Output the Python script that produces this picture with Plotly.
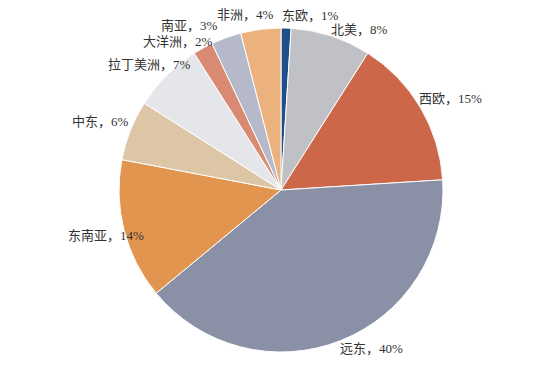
import math
import plotly.graph_objects as go

regions = ["东欧", "北美", "西欧", "远东", "东南亚", "中东", "拉丁美洲", "大洋洲", "南亚", "非洲"]
shares = [1, 8, 15, 40, 14, 6, 7, 2, 3, 4]
colors = ["#1F4E8C", "#BFC1C6", "#CD6749", "#8A90A6", "#E2954E",
          "#DCC6A6", "#E4E6EA", "#D88A73", "#B5B9C9", "#EBB27E"]
# per-label pixel nudges from the default outside position (style only)
nudges = [(24, -1), (25, 5), (20, -3), (26, -3), (-6, 2),
          (-19, -4), (-8, -2), (-19, 4), (-33, -1), (-14, -3)]

texts = [f"{r}，{s}%" for r, s in zip(regions, shares)]

W, H = 550, 365
OFF = 8  # page body margin
cx, cy, R = 281, 190, 162
gap = 12


def px2paper(px, py):
    return (px - OFF) / W, 1 - (py - OFF) / H


x0, y1 = px2paper(cx - R, cy - R)
x1, y0 = px2paper(cx + R, cy + R)

fig = go.Figure(go.Pie(
    labels=regions,
    values=shares,
    textinfo="none",
    sort=False,
    direction="clockwise",
    rotation=0,
    marker=dict(colors=colors, line=dict(color="white", width=1)),
    showlegend=False,
    hoverinfo="label+percent",
    domain=dict(x=[x0, x1], y=[y0, y1]),
))

total = sum(shares)
cum = 0
for t, s, (dx, dy) in zip(texts, shares, nudges):
    mid = (cum + s / 2) / total * 2 * math.pi
    cum += s
    r = R + gap
    px = cx + r * math.sin(mid) + dx
    py = cy - r * math.cos(mid) + dy
    ax, ay = px2paper(px, py)
    fig.add_annotation(
        x=ax, y=ay, xref="paper", yref="paper",
        text=t, showarrow=False, xanchor="center", yanchor="middle",
        font=dict(family="Liberation Serif, Noto Sans CJK SC", size=13, color="#333333"),
    )

fig.update_layout(
    width=W, height=H,
    margin=dict(l=0, r=0, t=0, b=0),
    paper_bgcolor="white",
    plot_bgcolor="white",
)

fig.write_html("out.html")
